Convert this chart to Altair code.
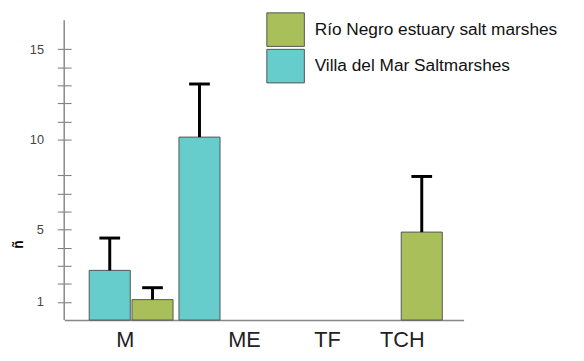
import altair as alt
import pandas as pd

categories = ["M", "ME", "TF", "TCH"]
series_villa = "Villa del Mar Saltmarshes"
series_rio = "Río Negro estuary salt marshes"

villa_means = [2.75, 10.13, None, None]
villa_upper = [4.54, 13.07, None, None]
rio_means = [1.13, None, None, 4.87]
rio_upper = [1.79, None, None, 7.95]

y_tick_values = [1, 2, 3, 4, 5, 6, 7, 8, 10, 11, 12, 13, 14, 15]
y_labels = [1, 5, 10, 15]

green = "#a9bf5a"
cyan = "#66cccc"

rows = []
for cat, m, u in zip(categories, villa_means, villa_upper):
    if m is not None:
        rows.append({"cat": cat, "series": series_villa, "mean": m, "upper": u})
for cat, m, u in zip(categories, rio_means, rio_upper):
    if m is not None:
        rows.append({"cat": cat, "series": series_rio, "mean": m, "upper": u})
df = pd.DataFrame(rows)

FONT = "Liberation Sans"

# small per-label nudges so the category labels sit where the original put them
label_nudge = {
    "condition": [
        {"test": "datum.value == 'M'", "value": -6},
        {"test": "datum.value == 'ME'", "value": 24},
        {"test": "datum.value == 'TF'", "value": 17},
    ],
    "value": 2,
}

x_enc = alt.X(
    "cat:N",
    sort=categories,
    scale=alt.Scale(domain=categories, paddingInner=0.066, paddingOuter=0.258, align=0.54),
    axis=alt.Axis(
        title=None, labelAngle=0, ticks=False, tickSize=0, labelPadding=10,
        labelFontSize=22, labelFont=FONT, labelColor="#222",
        labelOffset=label_nudge,
        domainColor="#888", domainWidth=1.5,
    ),
)
xoff_enc = alt.XOffset(
    "series:N", scale=alt.Scale(domain=[series_villa, series_rio], paddingInner=0.04)
)
y_scale = alt.Scale(domain=[0, 16.6], nice=False, zero=True)
label_test = " || ".join(f"datum.value == {v}" for v in y_labels)

y_axis = alt.Axis(
    values=y_tick_values,
    labelExpr=f"({label_test}) ? datum.label : ''",
    labelOverlap=False,
    domain=False, grid=False, offset=-7, tickSize=14,
    tickColor="#777", tickWidth=1, labelPadding=14,
    labelFontSize=13, labelFont=FONT, labelColor="#444",
    title="ñ", titleAngle=-90, titleFontSize=14, titleFontWeight="bold",
    titleColor="#000", titleFont=FONT, titleY=227,
)

bars = alt.Chart(df).mark_bar(stroke="#555", strokeWidth=1, opacity=1).encode(
    x=x_enc,
    xOffset=xoff_enc,
    y=alt.Y("mean:Q", scale=y_scale, axis=y_axis),
    color=alt.Color(
        "series:N",
        scale=alt.Scale(domain=[series_rio, series_villa], range=[green, cyan]),
        legend=alt.Legend(
            title=None, orient="none", legendX=207, legendY=-8,
            symbolType="M-1.12,-1H1.12V1H-1.12Z", symbolSize=1156,
            symbolStrokeColor="#555", symbolStrokeWidth=1, symbolOpacity=1,
            rowPadding=-5, labelOffset=12, labelFontSize=17.5, labelFont=FONT,
            labelColor="#111", padding=0, labelLimit=400,
        ),
    ),
)

err = alt.Chart(df).mark_rule(color="black", strokeWidth=3).encode(
    x=x_enc, xOffset=xoff_enc, y=alt.Y("mean:Q", scale=y_scale, axis=y_axis), y2="upper:Q"
)
caps = alt.Chart(df).mark_tick(color="black", thickness=3, size=21, orient="horizontal", opacity=1).encode(
    x=x_enc, xOffset=xoff_enc, y=alt.Y("upper:Q", scale=y_scale, axis=y_axis)
)
yline = alt.Chart(pd.DataFrame({"a": [0]})).mark_rule(color="#888", strokeWidth=1.5).encode(
    x=alt.value(0), y=alt.value(0), y2=alt.value(304)
)

chart = alt.layer(bars, err, caps, yline).properties(
    width=405, height=304,
    autosize=alt.AutoSizeParams(type="none"),
    padding={"left": 57, "top": 10, "right": 114, "bottom": 31},
).configure_view(stroke=None)

chart.save("out.html", embed_options={"renderer": "svg", "actions": False})
